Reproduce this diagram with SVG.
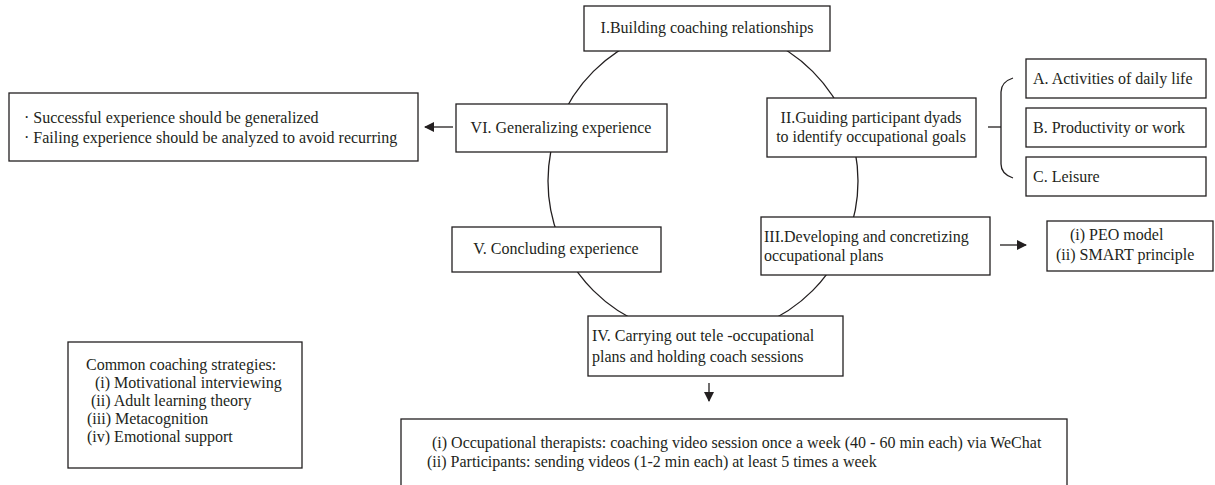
<svg xmlns="http://www.w3.org/2000/svg" width="1215" height="485" viewBox="0 0 1215 485">
<defs>
<style>
.box{fill:#fff;stroke:#231f20;stroke-width:1.3}
.ln{fill:none;stroke:#231f20;stroke-width:1.3}
text{font-family:"Liberation Serif","Times New Roman",serif;font-size:16px;fill:#231f20}
.c{text-anchor:middle}
</style>
<marker id="ah" viewBox="0 0 10 10" refX="9" refY="5" markerWidth="10" markerHeight="10" markerUnits="userSpaceOnUse" orient="auto">
<path d="M0,0 L10,5 L0,10 Z" fill="#231f20"/>
</marker>
</defs>
<rect width="1215" height="485" fill="#fff"/>
<g id="connectors">
<circle class="ln" cx="703" cy="181" r="155"/>
<line class="ln" x1="453" y1="127" x2="425" y2="127" marker-end="url(#ah)"/>
<line class="ln" x1="1000" y1="245" x2="1026" y2="245" marker-end="url(#ah)"/>
<line class="ln" x1="709" y1="383" x2="709" y2="401" marker-end="url(#ah)"/>
<line class="ln" x1="988" y1="127" x2="1001" y2="127"/>
<path class="ln" d="M1013,78 Q1001,82 1001,92 L1001,164 Q1001,174 1013,178"/>
</g>
<g id="node-I"><rect class="box" x="584" y="6" width="246" height="45"/><text class="c" x="707" y="33">I.Building coaching relationships</text></g>
<g id="node-II"><rect class="box" x="767" y="98" width="209" height="59"/><text class="c" x="871" y="123">II.Guiding participant dyads</text><text class="c" x="871" y="142">to identify occupational goals</text></g>
<g id="node-III"><rect class="box" x="761" y="217" width="229" height="58"/><text x="764" y="242">III.Developing and concretizing</text><text x="764" y="261">occupational plans</text></g>
<g id="node-IV"><rect class="box" x="588" y="316" width="255" height="60"/><text x="592" y="341">IV. Carrying out tele -occupational</text><text x="592" y="362">plans and holding coach sessions</text></g>
<g id="node-V"><rect class="box" x="452" y="227" width="209" height="45"/><text class="c" x="556" y="254">V. Concluding experience</text></g>
<g id="node-VI"><rect class="box" x="456" y="104" width="211" height="48"/><text class="c" x="561" y="133">VI. Generalizing experience</text></g>
<g id="node-experience"><rect class="box" x="9" y="93" width="409" height="68"/><text x="24" y="123">· Successful experience should be generalized</text><text x="24" y="143">· Failing experience should be analyzed to avoid recurring</text></g>
<g id="node-A"><rect class="box" x="1026" y="59" width="180" height="39"/><text x="1033" y="84">A. Activities of daily life</text></g>
<g id="node-B"><rect class="box" x="1026" y="108" width="180" height="39"/><text x="1033" y="133">B. Productivity or work</text></g>
<g id="node-C"><rect class="box" x="1026" y="157" width="180" height="39"/><text x="1033" y="182">C. Leisure</text></g>
<g id="node-PEO"><rect class="box" x="1047" y="221" width="166" height="50"/><text x="1070" y="240">(i) PEO model</text><text x="1056" y="260">(ii) SMART principle</text></g>
<g id="node-strategies"><rect class="box" x="68" y="342" width="234" height="126"/><text x="86" y="370">Common coaching strategies:</text><text x="95" y="388">(i) Motivational interviewing</text><text x="91" y="406">(ii) Adult learning theory</text><text x="87" y="424">(iii) Metacognition</text><text x="87" y="442">(iv) Emotional support</text></g>
<g id="node-sessions"><rect class="box" x="401" y="419" width="666" height="72"/><text x="432" y="448">(i) Occupational therapists: coaching video session once a week (40 - 60 min each) via WeChat</text><text x="427" y="467">(ii) Participants: sending videos (1-2 min each) at least 5 times a week</text></g>
</svg>
